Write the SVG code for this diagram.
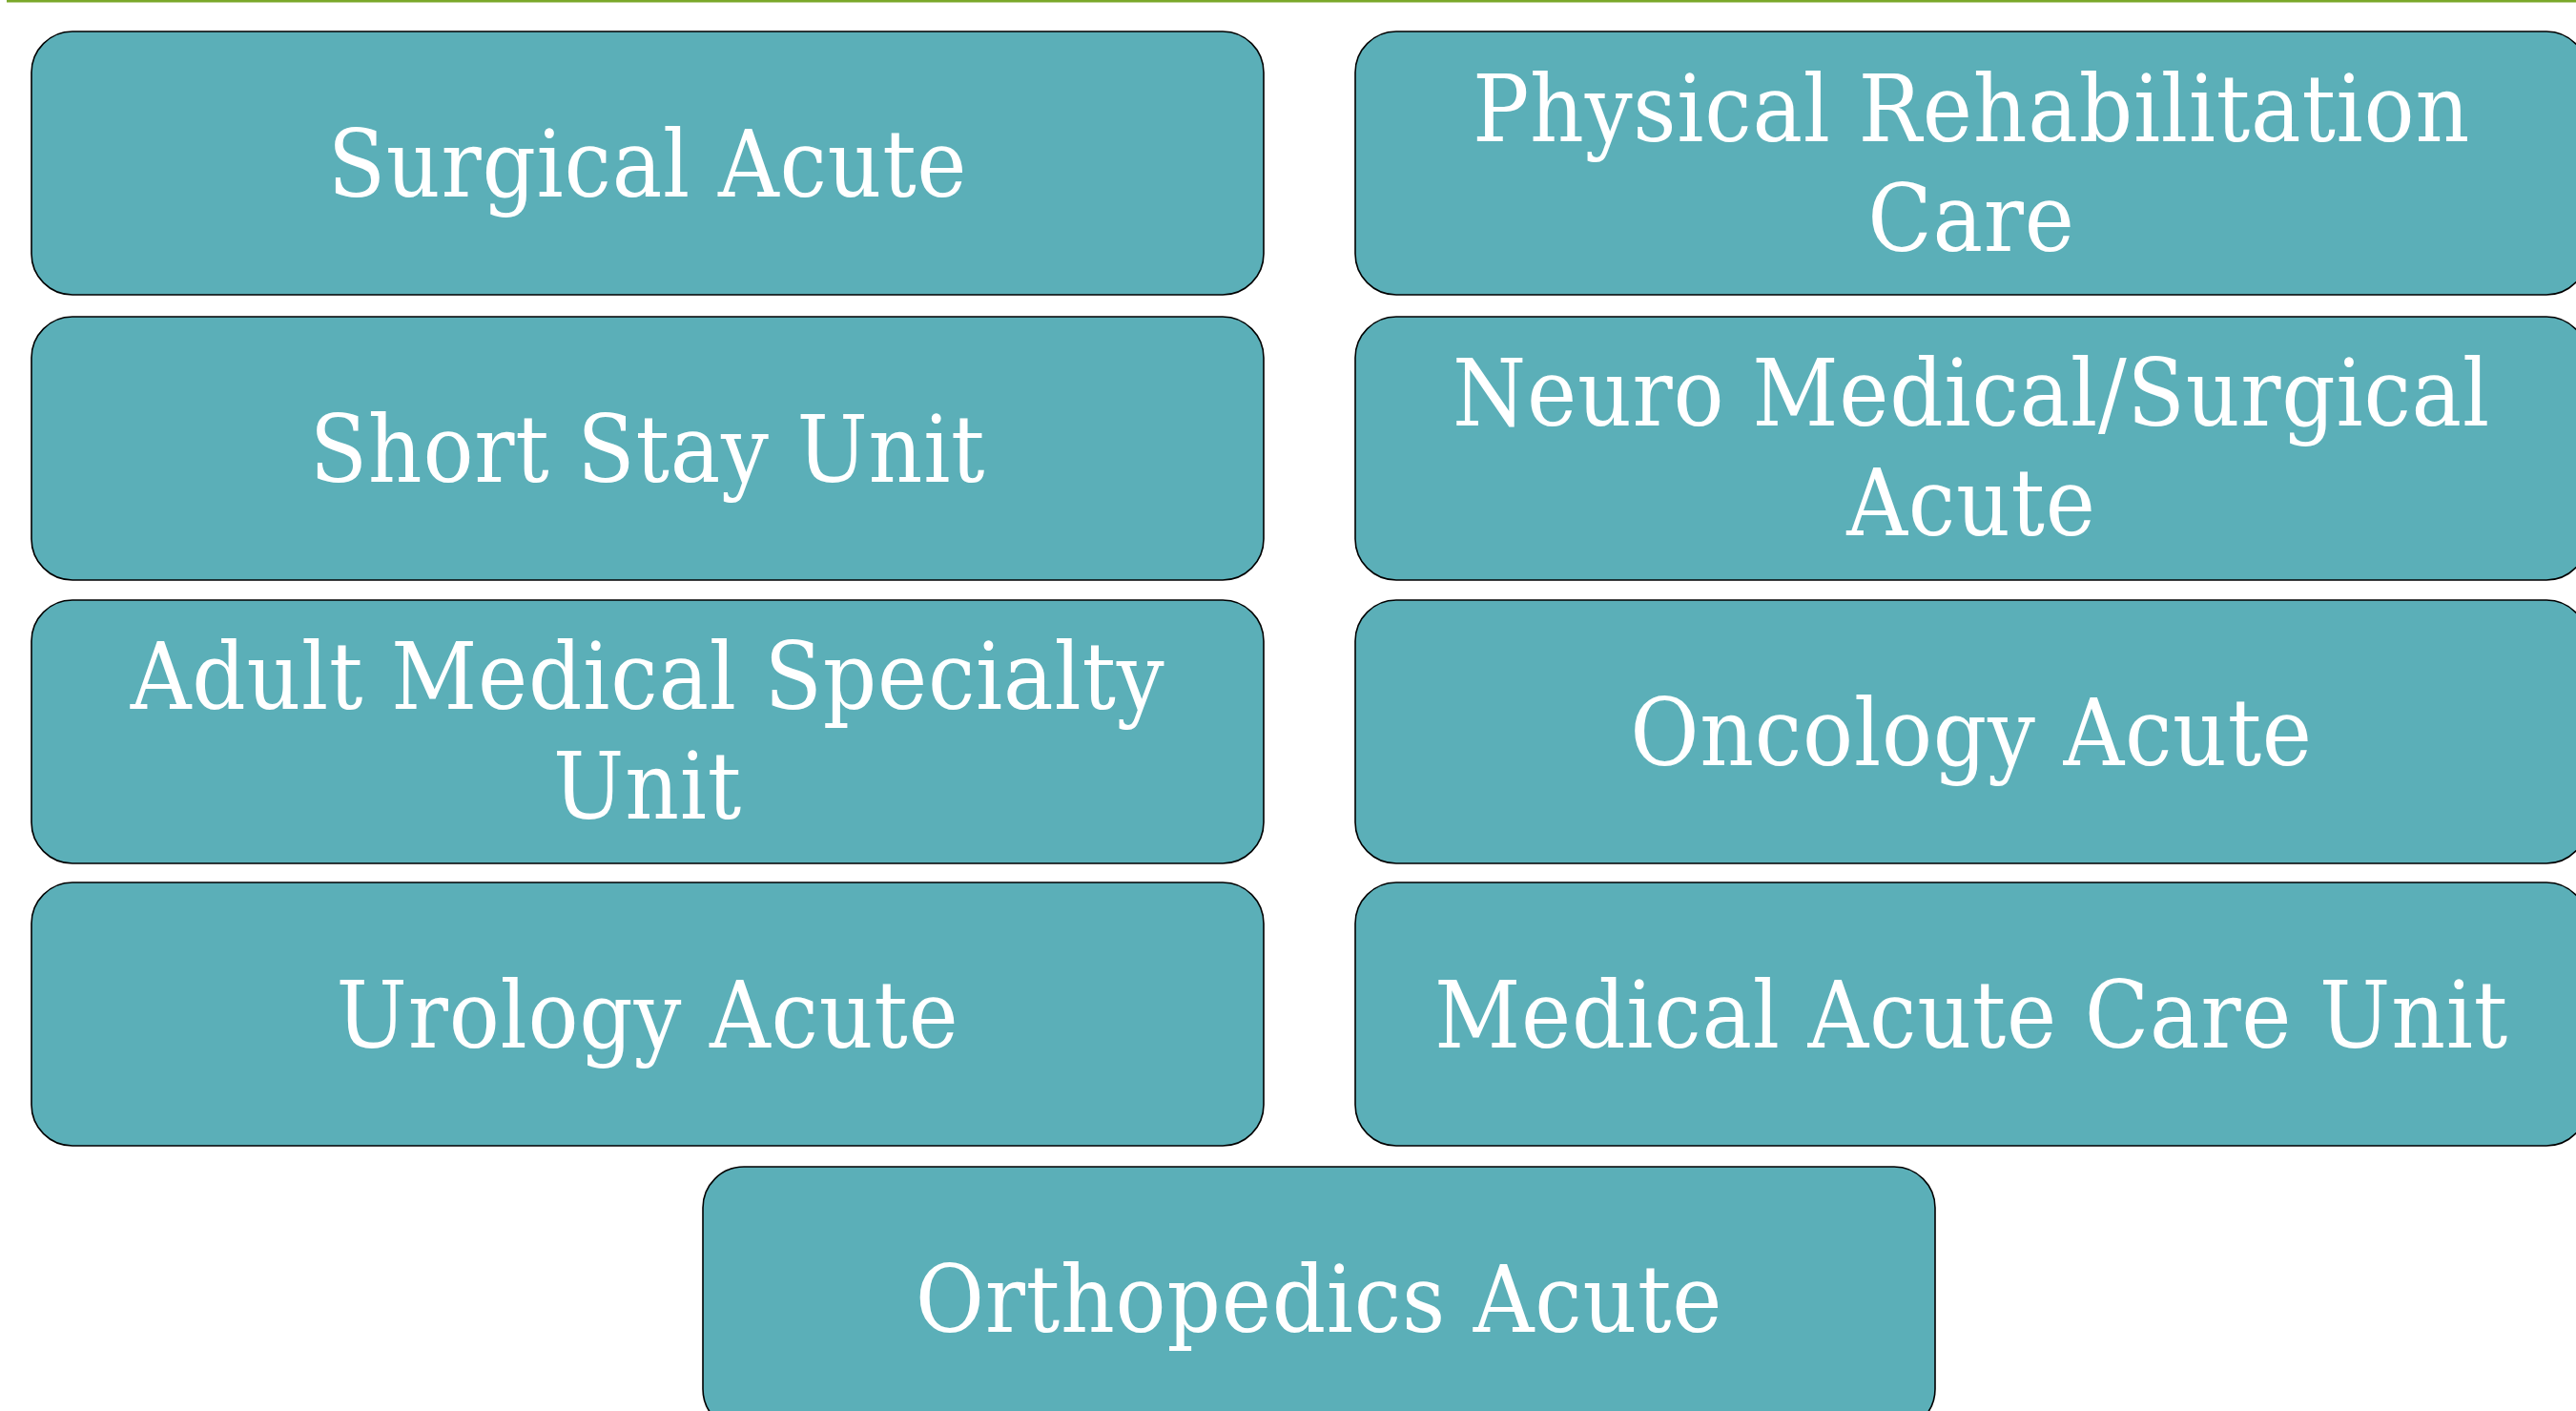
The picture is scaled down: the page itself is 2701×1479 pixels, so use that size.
<svg xmlns="http://www.w3.org/2000/svg" width="2701" height="1479" viewBox="0 0 2701 1479">
<style>
.box{fill:#5BAFB8;stroke:#000;stroke-width:1.6}
.lbl{fill:#fff;font-family:"DejaVu Serif","Liberation Serif",serif;font-size:98px;letter-spacing:0.8px;font-stretch:condensed;text-anchor:middle}
</style>
<rect x="7" y="0" width="2694" height="2.5" fill="#7AA82A"/>
<g id="connectors"/>
<g id="n1"><rect class="box" x="33" y="33" width="1292" height="276" rx="43"/><text class="lbl" x="679" y="206">Surgical Acute</text></g>
<g id="n2"><rect class="box" x="1421" y="33" width="1292" height="276" rx="43"/><text class="lbl" x="2067" y="148">Physical Rehabilitation</text><text class="lbl" x="2067" y="263">Care</text></g>
<g id="n3"><rect class="box" x="33" y="332" width="1292" height="276" rx="43"/><text class="lbl" x="679" y="505">Short Stay Unit</text></g>
<g id="n4"><rect class="box" x="1421" y="332" width="1292" height="276" rx="43"/><text class="lbl" x="2067" y="446">Neuro Medical/Surgical</text><text class="lbl" x="2067" y="561">Acute</text></g>
<g id="n5"><rect class="box" x="33" y="629" width="1292" height="276" rx="43"/><text class="lbl" x="679" y="743">Adult Medical Specialty</text><text class="lbl" x="679" y="858">Unit</text></g>
<g id="n6"><rect class="box" x="1421" y="629" width="1292" height="276" rx="43"/><text class="lbl" x="2067" y="802">Oncology Acute</text></g>
<g id="n7"><rect class="box" x="33" y="925" width="1292" height="276" rx="43"/><text class="lbl" x="679" y="1098">Urology Acute</text></g>
<g id="n8"><rect class="box" x="1421" y="925" width="1292" height="276" rx="43"/><text class="lbl" x="2067" y="1098">Medical Acute Care Unit</text></g>
<g id="n9"><rect class="box" x="737" y="1223" width="1292" height="276" rx="43"/><text class="lbl" x="1383" y="1396">Orthopedics Acute</text></g>
</svg>
